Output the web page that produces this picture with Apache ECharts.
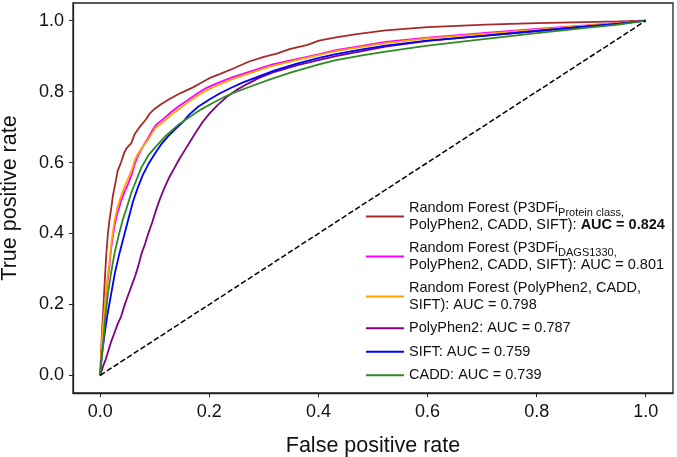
<!DOCTYPE html>
<html>
<head>
<meta charset="utf-8">
<script src="https://cdn.jsdelivr.net/npm/echarts@6/dist/echarts.min.js"></script>
<style>
  html, body { margin: 0; padding: 0; background: #fff; }
  #main { width: 677px; height: 457px; }
</style>
</head>
<body>
<div id="main"></div>
<script>
var FONT = '"Liberation Sans", Arial, sans-serif';

// tick labels on both axes
var ticks = [0, 0.2, 0.4, 0.6, 0.8, 1.0];

// legend names (rich text, see formatter)
var names = [
  'Random Forest (P3DFi{sub|Protein class,}\nPolyPhen2, CADD, SIFT): {b|AUC = 0.824}',
  'Random Forest (P3DFi{sub|DAGS1330,}\nPolyPhen2, CADD, SIFT): AUC = 0.801',
  'Random Forest (PolyPhen2, CADD,\nSIFT): AUC = 0.798',
  'PolyPhen2: AUC = 0.787',
  'SIFT: AUC = 0.759',
  'CADD: AUC = 0.739'
];
var colors = ['#a52a2a', '#ff00ff', '#ffa500', '#800080', '#0000ff', '#2e8b22'];

// ROC curves
var rfProteinFpr = [0, 0.003, 0.005, 0.008, 0.011, 0.014, 0.017, 0.020, 0.023, 0.028, 0.032, 0.038, 0.044, 0.048, 0.057, 0.063, 0.072, 0.084, 0.090, 0.100, 0.112, 0.127, 0.142, 0.157, 0.170, 0.185, 0.200, 0.220, 0.245, 0.273, 0.300, 0.325, 0.347, 0.380, 0.401, 0.432, 0.470, 0.523, 0.600, 0.707, 0.800, 0.890, 0.950, 1.0];
var rfProteinTpr = [0, 0.12, 0.17, 0.26, 0.34, 0.40, 0.44, 0.47, 0.505, 0.545, 0.577, 0.60, 0.628, 0.64, 0.655, 0.68, 0.70, 0.722, 0.737, 0.752, 0.765, 0.779, 0.792, 0.803, 0.812, 0.825, 0.838, 0.850, 0.866, 0.885, 0.898, 0.908, 0.920, 0.932, 0.944, 0.953, 0.962, 0.973, 0.982, 0.989, 0.993, 0.996, 0.998, 1.0];

var rfFpr = [0, 0.002, 0.005, 0.008, 0.012, 0.017, 0.020, 0.026, 0.031, 0.038, 0.044, 0.051, 0.058, 0.064, 0.069, 0.078, 0.087, 0.095, 0.102, 0.118, 0.131, 0.145, 0.160, 0.177, 0.194, 0.218, 0.243, 0.280, 0.316, 0.360, 0.400, 0.432, 0.480, 0.523, 0.600, 0.707, 0.800, 0.890, 0.950, 1.0];
var rfDagsTpr = [0, 0.07, 0.13, 0.18, 0.25, 0.31, 0.36, 0.42, 0.455, 0.49, 0.515, 0.54, 0.568, 0.60, 0.618, 0.645, 0.667, 0.690, 0.706, 0.726, 0.744, 0.760, 0.776, 0.794, 0.810, 0.826, 0.841, 0.859, 0.877, 0.892, 0.905, 0.917, 0.929, 0.940, 0.952, 0.966, 0.977, 0.987, 0.994, 1.0];
var rfBaseTpr = [0, 0.08, 0.14, 0.19, 0.26, 0.32, 0.37, 0.435, 0.47, 0.505, 0.53, 0.555, 0.58, 0.61, 0.624, 0.645, 0.663, 0.683, 0.699, 0.718, 0.736, 0.752, 0.769, 0.787, 0.803, 0.820, 0.836, 0.855, 0.873, 0.889, 0.903, 0.914, 0.926, 0.937, 0.950, 0.963, 0.975, 0.986, 0.993, 1.0];

var polyFpr = [0, 0.005, 0.010, 0.014, 0.020, 0.026, 0.032, 0.038, 0.045, 0.052, 0.058, 0.064, 0.070, 0.076, 0.082, 0.088, 0.095, 0.102, 0.110, 0.118, 0.127, 0.136, 0.145, 0.155, 0.165, 0.175, 0.188, 0.200, 0.215, 0.231, 0.250, 0.270, 0.290, 0.320, 0.360, 0.400, 0.432, 0.480, 0.523, 0.600, 0.707, 0.800, 0.890, 0.950, 1.0];
var polyTpr = [0, 0.025, 0.045, 0.065, 0.095, 0.12, 0.145, 0.165, 0.20, 0.23, 0.255, 0.28, 0.31, 0.345, 0.37, 0.40, 0.43, 0.465, 0.50, 0.53, 0.56, 0.585, 0.61, 0.635, 0.66, 0.685, 0.715, 0.738, 0.762, 0.784, 0.805, 0.822, 0.838, 0.856, 0.874, 0.889, 0.900, 0.914, 0.927, 0.943, 0.958, 0.971, 0.983, 0.991, 1.0];

var siftFpr = [0, 0.003, 0.008, 0.013, 0.020, 0.027, 0.035, 0.043, 0.051, 0.060, 0.069, 0.078, 0.088, 0.100, 0.112, 0.125, 0.138, 0.150, 0.163, 0.180, 0.200, 0.218, 0.240, 0.262, 0.286, 0.320, 0.359, 0.401, 0.432, 0.480, 0.523, 0.600, 0.707, 0.800, 0.890, 0.950, 1.0];
var siftTpr = [0, 0.06, 0.117, 0.17, 0.23, 0.29, 0.343, 0.39, 0.437, 0.49, 0.53, 0.565, 0.595, 0.625, 0.652, 0.675, 0.695, 0.712, 0.735, 0.758, 0.778, 0.794, 0.811, 0.826, 0.840, 0.860, 0.878, 0.895, 0.906, 0.919, 0.930, 0.944, 0.958, 0.971, 0.984, 0.991, 1.0];

var caddFpr = [0, 0.002, 0.005, 0.009, 0.014, 0.020, 0.026, 0.033, 0.041, 0.048, 0.057, 0.066, 0.075, 0.088, 0.102, 0.120, 0.145, 0.165, 0.185, 0.206, 0.230, 0.250, 0.273, 0.310, 0.347, 0.401, 0.432, 0.480, 0.523, 0.600, 0.707, 0.800, 0.890, 0.950, 1.0];
var caddTpr = [0, 0.04, 0.08, 0.16, 0.23, 0.29, 0.343, 0.39, 0.437, 0.47, 0.515, 0.55, 0.585, 0.62, 0.645, 0.675, 0.709, 0.730, 0.750, 0.768, 0.787, 0.800, 0.813, 0.834, 0.853, 0.877, 0.889, 0.902, 0.913, 0.930, 0.949, 0.965, 0.980, 0.989, 1.0];

var chanceX = [0, 1];
var chanceY = [0, 1];

function pairs(xs, ys) {
  return xs.map(function (x, i) { return [x, ys[i]]; });
}

var curves = [
  [rfProteinFpr, rfProteinTpr],
  [rfFpr, rfDagsTpr],
  [rfFpr, rfBaseTpr],
  [polyFpr, polyTpr],
  [siftFpr, siftTpr],
  [caddFpr, caddTpr]
];

var series = curves.map(function (c, i) {
  return {
    name: names[i],
    type: 'line',
    data: pairs(c[0], c[1]),
    symbol: 'none',
    showSymbol: false,
    color: colors[i],
    lineStyle: { color: colors[i], width: 1.8 },
    animation: false,
    z: 2 + i
  };
});
series.push({
  name: 'chance',
  type: 'line',
  data: pairs(chanceX, chanceY),
  symbol: 'none',
  lineStyle: { color: '#000', width: 1.5, type: [5.5, 2.5] },
  animation: false,
  z: 10
});

function axis(name, gap, labelMargin) {
  return {
    type: 'value',
    min: -0.05,
    max: 1.05,
    name: name,
    nameLocation: 'middle',
    nameGap: gap,
    nameTextStyle: { fontFamily: FONT, fontSize: 21.5, color: '#111' },
    axisLine: { show: true, onZero: false, lineStyle: { color: '#222', width: 1.3 } },
    axisTick: { show: true, length: 4, customValues: ticks, lineStyle: { color: '#222', width: 1 } },
    axisLabel: {
      customValues: ticks,
      margin: labelMargin,
      fontFamily: FONT,
      fontSize: 18,
      color: '#111',
      formatter: function (v) { return v.toFixed(1); }
    },
    splitLine: { show: false }
  };
}

var chart = echarts.init(document.getElementById('main'));
chart.setOption({
  animation: false,
  backgroundColor: '#fff',
  grid: {
    left: 73, right: 4, top: 3, bottom: 64,
    show: true, borderColor: '#222', borderWidth: 1.3,
    containLabel: false,
    outerBoundsMode: 'none'
  },
  xAxis: axis('False positive rate', 42, 10),
  yAxis: axis('True positive rate', 52, 9),
  legend: {
    data: names,
    orient: 'vertical',
    left: 366,
    top: 200,
    padding: 0,
    itemGap: 7,
    icon: 'rect',
    itemWidth: 38,
    itemHeight: 2,
    selectedMode: false,
    textStyle: {
      fontFamily: FONT,
      fontSize: 14.5,
      lineHeight: 16.5,
      color: '#111',
      rich: {
        sub: { fontFamily: FONT, fontSize: 11, height: 8, verticalAlign: 'bottom', color: '#111' },
        b: { fontFamily: FONT, fontSize: 14.5, lineHeight: 16.5, fontWeight: 'bold', color: '#111' }
      }
    }
  },
  series: series
});
</script>
</body>
</html>
